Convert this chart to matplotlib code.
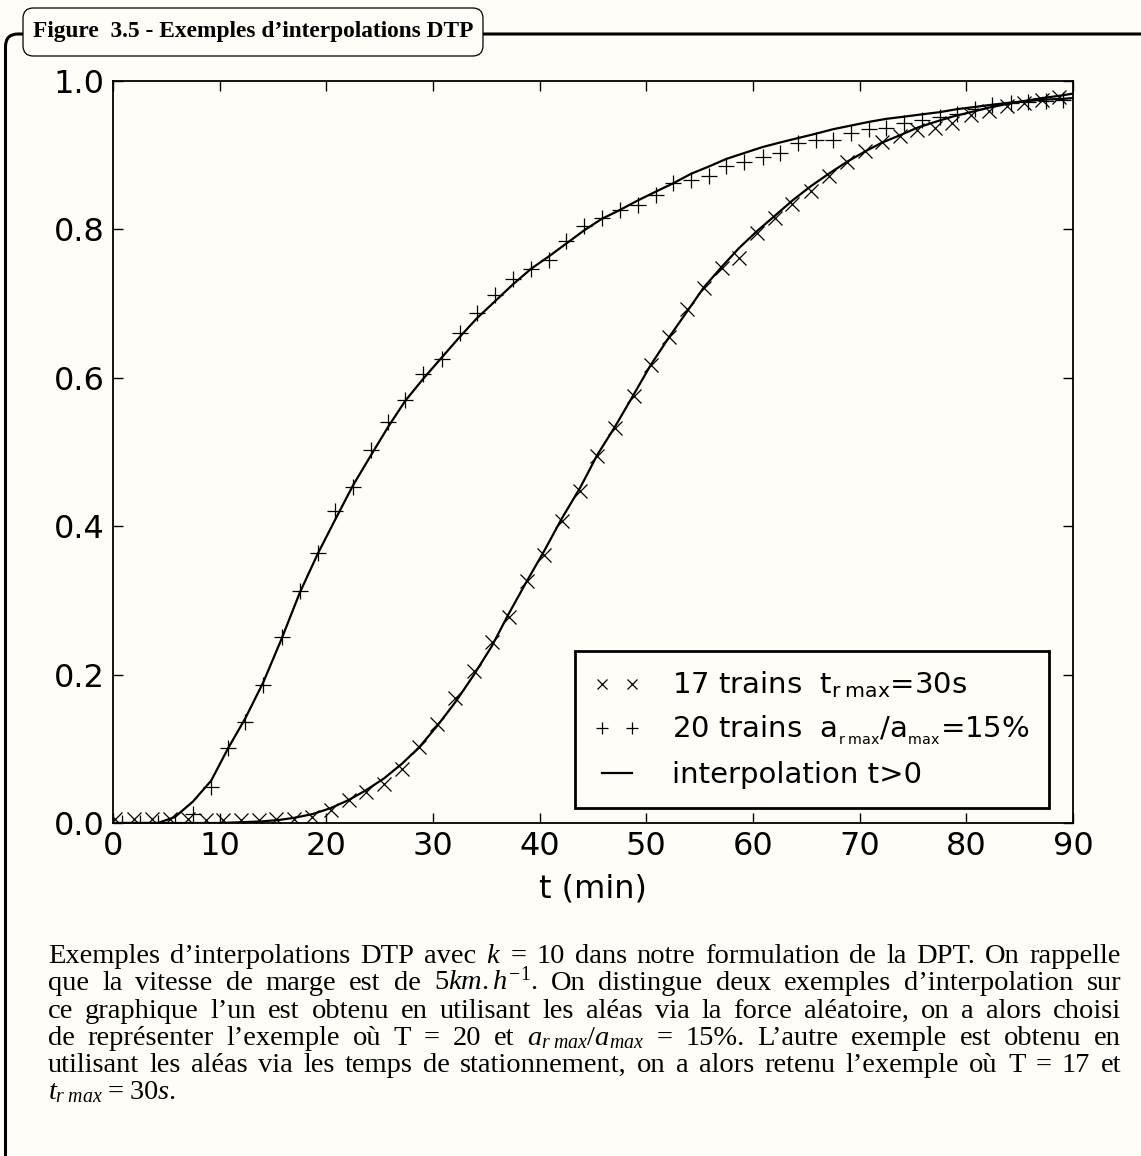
import matplotlib
matplotlib.use("Agg")
import matplotlib.pyplot as plt
from matplotlib.patches import FancyBboxPatch
import numpy as np

# 17 trains, t_r max = 30s  (x markers)
cross_t = [0.2, 2.0, 3.7, 5.3, 7.0, 8.7, 10.3, 12.0, 13.7, 15.3, 17.0, 18.7, 20.4, 22.1,
           23.7, 25.4, 27.1, 28.7, 30.4, 32.1, 33.8, 35.5, 37.1, 38.8, 40.4, 42.1, 43.8,
           45.4, 47.1, 48.8, 50.4, 52.1, 53.8, 55.4, 57.1, 58.7, 60.4, 62.1, 63.7, 65.4,
           67.1, 68.8, 70.5, 72.1, 73.8, 75.4, 77.1, 78.7, 80.4, 82.1, 83.8, 85.4, 87.1, 88.7]
cross_v = [0.005, 0.005, 0.005, 0.005, 0.005, 0.004, 0.004, 0.004, 0.004, 0.005, 0.006,
           0.008, 0.018, 0.031, 0.042, 0.053, 0.073, 0.103, 0.133, 0.168, 0.205, 0.244,
           0.277, 0.326, 0.361, 0.407, 0.447, 0.495, 0.532, 0.575, 0.617, 0.655, 0.693,
           0.721, 0.748, 0.762, 0.795, 0.815, 0.834, 0.852, 0.872, 0.891, 0.906, 0.918,
           0.926, 0.934, 0.936, 0.943, 0.954, 0.960, 0.966, 0.971, 0.975, 0.978]

# 20 trains, a_r max / a_max = 15%  (+ markers)
plus_t = [0.8, 2.5, 4.2, 5.8, 7.5, 9.2, 10.8, 12.4, 14.1, 15.8, 17.5, 19.2, 20.8, 22.5,
          24.2, 25.8, 27.4, 29.1, 30.8, 32.5, 34.1, 35.8, 37.5, 39.2, 40.9, 42.5, 44.2,
          45.8, 47.5, 49.2, 50.9, 52.5, 54.2, 55.9, 57.5, 59.2, 60.9, 62.5, 64.2, 65.9,
          67.5, 69.2, 70.9, 72.5, 74.2, 75.8, 77.5, 79.1, 80.8, 82.4, 84.2, 85.8, 87.5, 89.1]
plus_v = [0.0, 0.0, 0.0, 0.0, 0.012, 0.049, 0.101, 0.136, 0.186, 0.251, 0.312, 0.364,
          0.420, 0.453, 0.503, 0.541, 0.570, 0.605, 0.626, 0.661, 0.687, 0.712, 0.733,
          0.747, 0.759, 0.784, 0.805, 0.816, 0.826, 0.833, 0.846, 0.863, 0.867, 0.872,
          0.885, 0.891, 0.898, 0.903, 0.916, 0.921, 0.921, 0.930, 0.935, 0.936, 0.944,
          0.947, 0.952, 0.956, 0.962, 0.968, 0.970, 0.972, 0.973, 0.975]

# interpolation curves
fit_cross_t = [0, 5, 10, 13.8, 15.5, 17.0, 18.7, 20.4, 22.1, 23.7, 25.4, 27.1, 28.7, 30.4,
               32.1, 33.8, 35.5, 37.1, 38.8, 40.4, 42.1, 43.8, 45.4, 47.1, 48.8, 50.4, 52.1,
               53.8, 55.4, 57.1, 58.7, 60.4, 62.1, 63.7, 65.4, 67.1, 68.8, 70.5, 72.1, 73.8,
               75.4, 77.1, 78.7, 80.4, 82.1, 83.8, 85.4, 87.1, 88.7, 90]
fit_cross_v = [0.0, 0.0, 0.0, 0.002, 0.004, 0.007, 0.012, 0.020, 0.031, 0.044, 0.060, 0.080,
               0.102, 0.131, 0.163, 0.199, 0.238, 0.282, 0.326, 0.366, 0.411, 0.452, 0.496,
               0.535, 0.577, 0.617, 0.654, 0.689, 0.722, 0.750, 0.775, 0.798, 0.819, 0.839,
               0.858, 0.875, 0.891, 0.905, 0.917, 0.927, 0.937, 0.945, 0.952, 0.958, 0.964,
               0.969, 0.973, 0.977, 0.980, 0.983]
fit_plus_t = [0, 4.2, 5.8, 7.5, 9.2, 10.8, 12.4, 14.1, 15.8, 17.5, 19.2, 20.8, 22.5, 24.2,
              25.8, 27.4, 29.1, 30.8, 32.5, 34.1, 35.8, 37.5, 39.2, 40.9, 42.5, 44.2, 45.8,
              47.5, 49.2, 50.9, 52.5, 54.2, 55.9, 57.5, 59.2, 60.9, 62.5, 64.2, 65.9, 67.5,
              69.2, 70.9, 72.5, 74.2, 75.8, 77.5, 79.1, 80.8, 82.4, 84.2, 85.8, 87.5, 89.1, 90]
fit_plus_v = [0.0, 0.0, 0.008, 0.029, 0.057, 0.101, 0.141, 0.190, 0.248, 0.310, 0.363, 0.408,
              0.455, 0.496, 0.534, 0.569, 0.599, 0.627, 0.655, 0.680, 0.703, 0.726, 0.747,
              0.764, 0.781, 0.799, 0.814, 0.826, 0.839, 0.851, 0.862, 0.875, 0.885, 0.895,
              0.903, 0.911, 0.917, 0.923, 0.929, 0.935, 0.940, 0.945, 0.949, 0.952, 0.955,
              0.958, 0.962, 0.965, 0.968, 0.971, 0.973, 0.975, 0.976, 0.977]

x_ticks = [0, 10, 20, 30, 40, 50, 60, 70, 80, 90]
y_ticks = [0.0, 0.2, 0.4, 0.6, 0.8, 1.0]

title = "Figure  3.5 - Exemples d\u2019interpolations DTP"
caption = [
    "Exemples d\u2019interpolations DTP avec $k$ = 10 dans notre formulation de la DPT. On rappelle",
    "que la vitesse de marge est de 5$km.h^{-1}$. On distingue deux exemples d\u2019interpolation sur",
    "ce graphique l\u2019un est obtenu en utilisant les al\u00e9as via la force al\u00e9atoire, on a alors choisi",
    "de repr\u00e9senter l\u2019exemple o\u00f9 T = 20 et $a_{r\\;max}/a_{max}$ = 15%. L\u2019autre exemple est obtenu en",
    "utilisant les al\u00e9as via les temps de stationnement, on a alors retenu l\u2019exemple o\u00f9 T = 17 et",
    "$t_{r\\;max}$ = 30$s$.",
]

bg = "#fefdf8"
W, H = 1141, 1156
plt.rcParams["mathtext.fontset"] = "custom"
plt.rcParams["mathtext.rm"] = "Liberation Serif"
plt.rcParams["mathtext.it"] = "Liberation Serif:italic"

fig = plt.figure(figsize=(W / 100, H / 100), dpi=100)
fig.patch.set_facecolor(bg)

# outer frame + title box
fig.patches.append(FancyBboxPatch((5.5 / W, -0.05), 1.2, 1 - 34 / H + 0.05,
                                  boxstyle="round,pad=0,rounding_size=0.011",
                                  transform=fig.transFigure, fill=False, ec="black", lw=2.2))
fig.patches.append(FancyBboxPatch((23 / W, 1 - 56 / H), 460 / W, 48 / H,
                                  boxstyle="round,pad=0,rounding_size=0.009",
                                  transform=fig.transFigure, fc=bg, ec="black", lw=0.9, zorder=3))
fig.text(253 / W, 1 - 32 / H, title, ha="center", va="center", fontsize=16.8,
         fontweight="bold", family="Liberation Serif", zorder=4)

ax = fig.add_axes([113 / W, 1 - 823 / H, 960 / W, 742 / H])
ax.set_facecolor(bg)
ax.plot(cross_t, cross_v, "kx", ms=9.5, mew=0.9, label="17 trains  t$_{\\mathdefault{r\\ max}}$=30s")
ax.plot(plus_t, plus_v, "k+", ms=11, mew=0.9,
        label="20 trains  a$_{_\\mathdefault{r\\ max}}$/a$_{_\\mathdefault{max}}$=15%")
ax.plot(fit_cross_t, fit_cross_v, "k-", lw=1.6, label="interpolation t>0")
ax.plot(fit_plus_t, fit_plus_v, "k-", lw=1.6)

ax.set_xlim(0, 90)
ax.set_ylim(0, 1.0)
ax.set_xticks(x_ticks)
ax.set_yticks(y_ticks)
ax.tick_params(direction="in", top=True, right=True, length=7, width=1, labelsize=23, pad=6)
for s in ax.spines.values():
    s.set_linewidth(1.3)
ax.set_xlabel("t (min)", fontsize=23, labelpad=8)

leg = ax.legend(loc="upper left", bbox_to_anchor=(0.481, 0.232), fontsize=21, numpoints=2,
                markerscale=0.8, handlelength=1.6, handletextpad=1.1, labelspacing=0.48,
                borderpad=0.65, borderaxespad=0, fancybox=False, framealpha=1)
leg.get_frame().set_edgecolor("black")
leg.get_frame().set_linewidth(2)
leg.get_frame().set_facecolor(bg)

# justified caption
renderer = fig.canvas.get_renderer()
x0, x1 = 48, 1121
baselines = [963, 990, 1018, 1045, 1072, 1099]
for i, line in enumerate(caption):
    words = line.split(" ")
    texts = [fig.text(0, 1 - baselines[i] / H, w, fontsize=20.5, family="Liberation Serif",
                      va="baseline") for w in words]
    widths = [t.get_window_extent(renderer).width for t in texts]
    if i < len(caption) - 1:
        gap = (x1 - x0 - sum(widths)) / (len(words) - 1)
    else:
        gap = 5
    x = x0
    for t, w in zip(texts, widths):
        t.set_x(x / W)
        x += w + gap

fig.savefig("out.png", dpi=100, facecolor=bg)
